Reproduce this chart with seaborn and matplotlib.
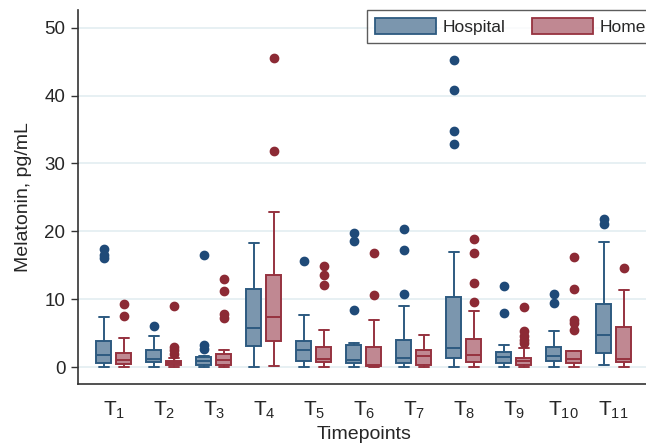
import numpy as np
import matplotlib
matplotlib.use("Agg")
import matplotlib.pyplot as plt
import seaborn as sns
from matplotlib.patches import Patch

# ============================
# data, one entry per timepoint T1..T11
# ============================
timepoints = [f"T{i}" for i in range(1, 12)]
groups = ["Hospital", "Home"]

hosp_whislo = [0, 0, 0, 0, 0, 0, 0, 0, 0, 0, 0.35]
hosp_q1 = [0.64, 0.8, 0.25, 3.1, 0.83, 0.64, 0.64, 1.28, 0.64, 0.83, 2.1]
hosp_med = [1.7, 1.2, 0.83, 5.7, 2.55, 1.0, 1.28, 2.8, 1.47, 1.67, 4.7]
hosp_q3 = [3.9, 2.45, 1.47, 11.5, 3.83, 3.3, 4.0, 10.3, 2.2, 3.0, 9.3]
hosp_whishi = [7.4, 4.6, 1.57, 18.3, 7.7, 3.6, 9.0, 16.9, 3.3, 5.3, 18.4]
hosp_out = [
    [16.1, 16.5, 17.4], [6.0], [2.7, 3.2, 16.5], [], [15.6],
    [8.4, 18.5, 19.8], [10.7, 17.3, 20.3], [32.8, 34.8, 40.8, 45.2],
    [8.0, 12.0], [9.4, 10.8], [21.0, 21.8],
]

home_whislo = [0, 0, 0, 0.15, 0, 0, 0, 0, 0, 0, 0]
home_q1 = [0.4, 0.25, 0.34, 3.9, 0.7, 0.2, 0.34, 0.8, 0.25, 0.64, 0.7]
home_med = [1.1, 0.6, 1.08, 7.3, 1.15, 0.35, 1.6, 1.7, 0.83, 1.2, 1.2]
home_q3 = [2.06, 0.93, 1.87, 13.5, 3.0, 3.0, 2.55, 4.17, 1.37, 2.3, 5.9]
home_whishi = [4.3, 1.4, 2.45, 22.9, 5.5, 6.9, 4.66, 8.2, 2.75, 2.3, 11.4]
home_out = [
    [7.5, 9.3], [1.9, 2.45, 2.9, 9.0], [7.2, 7.8, 11.2, 12.9], [31.8, 45.6],
    [12.1, 13.6, 14.9], [10.6, 16.8], [], [9.6, 12.4, 16.8, 18.9],
    [3.5, 4.0, 4.6, 5.3, 8.9], [5.4, 6.5, 7.0, 11.5, 16.2], [14.6],
]

hosp_fill, hosp_edge, hosp_dot = "#7b96ae", "#2d5a80", "#1f4a78"
home_fill, home_edge, home_dot = "#c08892", "#96323f", "#8c2a35"


def make_stats(lo, q1, med, q3, hi, out):
    return [
        dict(whislo=a, q1=b, med=c, q3=d, whishi=e, fliers=f)
        for a, b, c, d, e, f in zip(lo, q1, med, q3, hi, out)
    ]


sns.set_theme(style="white")
plt.rcParams["font.family"] = ["Liberation Sans", "DejaVu Sans"]
plt.rcParams["mathtext.fontset"] = "custom"
plt.rcParams["mathtext.rm"] = "Liberation Sans"

fig = plt.figure(figsize=(6.46, 4.43), dpi=100)
ax = fig.add_axes([0.1207, 0.1332, 0.885, 0.8442])

x = np.arange(len(timepoints))
for stats, offs, fill, edge, dot in [
    (make_stats(hosp_whislo, hosp_q1, hosp_med, hosp_q3, hosp_whishi, hosp_out),
     -0.2, hosp_fill, hosp_edge, hosp_dot),
    (make_stats(home_whislo, home_q1, home_med, home_q3, home_whishi, home_out),
     0.2, home_fill, home_edge, home_dot),
]:
    ax.bxp(
        stats, positions=x + offs, widths=0.3, capwidths=0.2,
        patch_artist=True, manage_ticks=False,
        boxprops=dict(facecolor=fill, edgecolor=edge, linewidth=1.4),
        medianprops=dict(color=edge, linewidth=1.4),
        whiskerprops=dict(color=edge, linewidth=1.4),
        capprops=dict(color=edge, linewidth=1.4),
        flierprops=dict(marker="o", markerfacecolor=dot, markeredgecolor=dot,
                        markersize=6),
    )

ax.set_xlim(-0.72, 10.72)
ax.set_ylim(-2.5, 52.6)
ax.set_yticks([0, 10, 20, 30, 40, 50])
ax.set_xticks(x)
ax.set_xticklabels([rf"$\mathregular{{T_{{{i}}}}}$" for i in range(1, 12)],
                   fontsize=15)
ax.tick_params(axis="x", length=0, pad=11)
ax.tick_params(axis="y", length=5, width=1, color="#333333", labelsize=13.5,
               direction="out", left=True, pad=4)
ax.grid(axis="y", color="#e3edf1", linewidth=1.2)
ax.set_axisbelow(True)

for s in ["top", "right"]:
    ax.spines[s].set_visible(False)
for s in ["left", "bottom"]:
    ax.spines[s].set_color("#333333")
    ax.spines[s].set_linewidth(1.2)

ax.set_ylabel("Melatonin, pg/mL", fontsize=14, labelpad=9)
ax.set_xlabel("Timepoints", fontsize=14, labelpad=4)

handles = [
    Patch(facecolor=hosp_fill, edgecolor=hosp_edge, linewidth=1.3, label=groups[0]),
    Patch(facecolor=home_fill, edgecolor=home_edge, linewidth=1.3, label=groups[1]),
]
leg = ax.legend(handles=handles, loc="upper right", bbox_to_anchor=(1.008, 1),
                borderaxespad=0, ncol=2, fontsize=12.5, fancybox=False,
                handlelength=3.5, handleheight=1.1, handletextpad=0.4,
                columnspacing=1.55, borderpad=0.45)
leg.get_frame().set_edgecolor("#333333")
leg.get_frame().set_linewidth(1.0)

fig.savefig("out.png", dpi=100)
